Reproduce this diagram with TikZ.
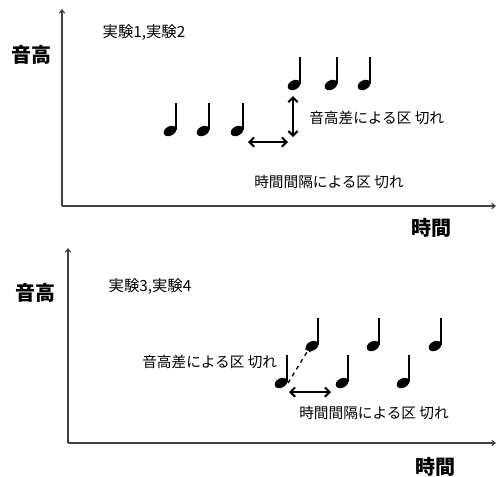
\documentclass[tikz,border=0pt]{standalone}
\usepackage{fontspec}
\setmainfont{Noto Sans CJK JP}
\usetikzlibrary{arrows.meta}
\begin{document}
\begin{tikzpicture}[x=0.75pt,y=-0.75pt,
  axis/.style={draw=black!75, line width=0.8pt, -{Straight Barb[length=2.5pt,width=4pt]}},
  axlabel/.style={font=\fontsize{15}{15}\selectfont\bfseries, inner sep=0pt},
  txt/.style={font=\fontsize{11}{12}\selectfont, inner sep=0pt},
  exptxt/.style={font=\fontsize{11.5}{12}\selectfont, inner sep=0pt},
  darrow/.style={line width=1.5pt, {Straight Barb[length=3.5pt,width=7pt]}-{Straight Barb[length=3.5pt,width=7pt]}},
  qnote/.pic={
    \fill[rotate=28] (0,0) ellipse [x radius=5pt, y radius=3.5pt];
    \draw[line width=1.9pt] (5.8,-1) -- (5.8,-28);
  }]
\useasboundingbox (0,0) rectangle (497,476);

% ---------- top panel ----------
\coordinate (yA1) at (62,206);
\coordinate (yA2) at (62,9);
\coordinate (xA2) at (496,206);
\draw[axis] (yA1) -- (yA2);
\draw[axis] (yA1) -- (xA2);
\node[axlabel] (pitchA) at (32,55) {音高};
\node[axlabel] (timeA) at (431,228) {時間};
\node[exptxt] (expA) at (144,33) {実験1,実験2};

\pic at (170,131) {qnote};
\pic at (203,131) {qnote};
\pic at (237,131) {qnote};
\pic at (294,85) {qnote};
\pic at (331,85) {qnote};
\pic at (364,85) {qnote};

\coordinate (vA1) at (293,96);
\coordinate (vA2) at (293,137);
\coordinate (hA1) at (248,142);
\coordinate (hA2) at (288,142);
\draw[darrow] (vA1) -- (vA2);
\draw[darrow] (hA1) -- (hA2);
\node[txt, anchor=west] (pdA) at (309,118) {音高差による区 切れ};
\node[txt, anchor=west] (tdA) at (254,182) {時間間隔による区 切れ};

% ---------- bottom panel ----------
\coordinate (yB1) at (68,443);
\coordinate (yB2) at (68,248);
\coordinate (xB2) at (496,443);
\draw[axis] (yB1) -- (yB2);
\draw[axis] (yB1) -- (xB2);
\node[axlabel] (pitchB) at (36,293) {音高};
\node[axlabel] (timeB) at (435,467) {時間};
\node[exptxt] (expB) at (150,287) {実験3,実験4};

\pic at (281,383) {qnote};
\pic at (312,346) {qnote};
\pic at (342,383) {qnote};
\pic at (373,346) {qnote};
\pic at (403,383) {qnote};
\pic at (435,346) {qnote};

\coordinate (dB1) at (288,383);
\coordinate (dB2) at (310,347);
\draw[dashed, line width=1pt, -{Straight Barb[length=2.5pt,width=4pt]}] (dB1) -- (dB2);
\coordinate (hB1) at (289,392);
\coordinate (hB2) at (331,392);
\draw[darrow] (hB1) -- (hB2);
\node[txt, anchor=west] (pdB) at (142,362) {音高差による区 切れ};
\node[txt, anchor=west] (tdB) at (299,413) {時間間隔による区 切れ};
\end{tikzpicture}
\end{document}
